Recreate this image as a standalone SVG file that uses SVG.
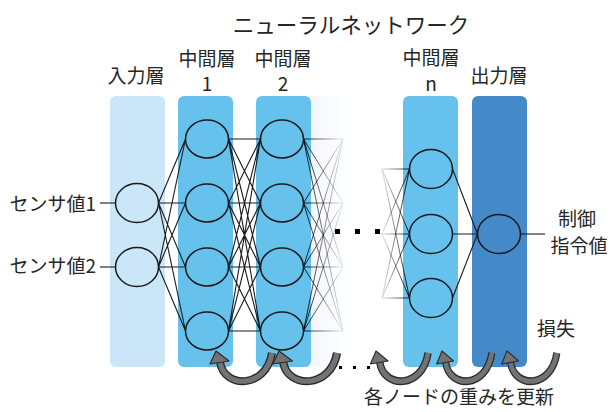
<svg xmlns="http://www.w3.org/2000/svg" xmlns:xlink="http://www.w3.org/1999/xlink" width="613" height="412" viewBox="0 0 613 412">
<style>
text{font-family:"Noto Sans CJK JP","Noto Sans",sans-serif;fill:#262626;font-size:19px}
.c{text-anchor:middle}
.n{stroke:#1a1a1a;stroke-width:1.5}
.e{stroke:#1a1a1a;stroke-width:1.1;fill:none}
.fo{stroke:url(#fadeOut);stroke-width:1;fill:none}
.fi{stroke:url(#fadeIn);stroke-width:1;fill:none}
</style>
<defs>
<linearGradient id="fadeOut" gradientUnits="userSpaceOnUse" x1="303" y1="0" x2="346" y2="0">
<stop offset="0" stop-color="#000" stop-opacity="0.9"/>
<stop offset="1" stop-color="#000" stop-opacity="0"/>
</linearGradient>
<linearGradient id="fadeIn" gradientUnits="userSpaceOnUse" x1="381" y1="0" x2="410" y2="0">
<stop offset="0" stop-color="#000" stop-opacity="0.08"/>
<stop offset="1" stop-color="#000" stop-opacity="0.9"/>
</linearGradient>
<linearGradient id="fadeCol" x1="0" y1="0" x2="1" y2="0">
<stop offset="0" stop-color="#F2F6FC"/>
<stop offset="1" stop-color="#FFFFFF"/>
</linearGradient>
<g id="arrow">
<path d="M4,9 C8,36 50,36 56,0" fill="none" stroke="#2b2b2b" stroke-width="8"/>
<path d="M4,9 C8,36 50,36 56,0" fill="none" stroke="#737373" stroke-width="5.2"/>
<polygon points="0,-2 -6,11 13,8" fill="#737373" stroke="#2b2b2b" stroke-width="1.2" stroke-linejoin="round"/>
</g>
</defs>

<!-- layer columns -->
<g id="columns">
<rect x="110" y="96" width="55" height="271" rx="6" fill="#CAE6F8"/>
<rect x="178" y="96" width="55" height="271" rx="6" fill="#66C1EC"/>
<rect x="256" y="96" width="55" height="271" rx="6" fill="#66C1EC"/>
<rect x="311" y="96" width="36" height="271" fill="url(#fadeCol)"/>
<rect x="403" y="96" width="55" height="271" rx="6" fill="#66C1EC"/>
<rect x="472" y="96" width="55" height="271" rx="6" fill="#4489C8"/>
</g>

<g id="connectors">
<!-- sensor inputs -->
<line class="e" x1="100" y1="203" x2="115.5" y2="203"/>
<line class="e" x1="100" y1="267" x2="115.5" y2="267"/>
<!-- input -> hidden1 -->
<path class="e" d="M158.5,203 L185.5,139 M158.5,203 L185.5,203 M158.5,203 L185.5,267 M158.5,203 L185.5,331 M158.5,267 L185.5,139 M158.5,267 L185.5,203 M158.5,267 L185.5,267 M158.5,267 L185.5,331"/>
<!-- hidden1 -> hidden2 -->
<path class="e" d="M228.5,139 L260.5,139 M228.5,139 L260.5,203 M228.5,139 L260.5,267 M228.5,139 L260.5,331 M228.5,203 L260.5,139 M228.5,203 L260.5,203 M228.5,203 L260.5,267 M228.5,203 L260.5,331 M228.5,267 L260.5,139 M228.5,267 L260.5,203 M228.5,267 L260.5,267 M228.5,267 L260.5,331 M228.5,331 L260.5,139 M228.5,331 L260.5,203 M228.5,331 L260.5,267 M228.5,331 L260.5,331"/>
<!-- hidden2 -> fading -->
<path class="fo" d="M303.5,139 L343,139 M303.5,139 L343,203 M303.5,139 L343,267 M303.5,139 L343,331 M303.5,203 L343,139 M303.5,203 L343,203 M303.5,203 L343,267 M303.5,203 L343,331 M303.5,267 L343,139 M303.5,267 L343,203 M303.5,267 L343,267 M303.5,267 L343,331 M303.5,331 L343,139 M303.5,331 L343,203 M303.5,331 L343,267 M303.5,331 L343,331"/>
<!-- fading -> hidden n -->
<path class="fi" d="M382,169 L409.5,169 M382,169 L409.5,234 M382,169 L409.5,298 M382,234 L409.5,169 M382,234 L409.5,234 M382,234 L409.5,298 M382,298 L409.5,169 M382,298 L409.5,234 M382,298 L409.5,298"/>
<!-- hidden n -> output -->
<path class="e" d="M452.5,169 L477.5,234 M452.5,234 L477.5,234 M452.5,298 L477.5,234"/>
<!-- output -> label -->
<line class="e" x1="520.5" y1="234" x2="545" y2="234"/>
<!-- weight update arrows -->
<use xlink:href="#arrow" transform="translate(216,353)"/>
<use xlink:href="#arrow" transform="translate(279,353) scale(1.036,1)"/>
<use xlink:href="#arrow" transform="translate(376,353) scale(0.93,1)"/>
<use xlink:href="#arrow" transform="translate(442,353) scale(0.89,1)"/>
<use xlink:href="#arrow" transform="translate(507,353) scale(0.89,1)"/>
</g>

<g id="input-layer">
<ellipse class="n" cx="137" cy="203" rx="21.5" ry="19.5" fill="#CAE6F8"/>
<ellipse class="n" cx="137" cy="267" rx="21.5" ry="19.5" fill="#CAE6F8"/>
</g>
<g id="hidden-1">
<ellipse class="n" cx="207" cy="139" rx="21.5" ry="19" fill="#66C1EC"/>
<ellipse class="n" cx="207" cy="203" rx="21.5" ry="19" fill="#66C1EC"/>
<ellipse class="n" cx="207" cy="267" rx="21.5" ry="19" fill="#66C1EC"/>
<ellipse class="n" cx="207" cy="331" rx="21.5" ry="19" fill="#66C1EC"/>
</g>
<g id="hidden-2">
<ellipse class="n" cx="282" cy="139" rx="21.5" ry="19" fill="#66C1EC"/>
<ellipse class="n" cx="282" cy="203" rx="21.5" ry="19" fill="#66C1EC"/>
<ellipse class="n" cx="282" cy="267" rx="21.5" ry="19" fill="#66C1EC"/>
<ellipse class="n" cx="282" cy="331" rx="21.5" ry="19" fill="#66C1EC"/>
</g>
<g id="hidden-n">
<ellipse class="n" cx="431" cy="169" rx="21.5" ry="19.5" fill="#66C1EC"/>
<ellipse class="n" cx="431" cy="234" rx="21.5" ry="19.5" fill="#66C1EC"/>
<ellipse class="n" cx="431" cy="298" rx="21.5" ry="19.5" fill="#66C1EC"/>
</g>
<g id="output-layer">
<ellipse class="n" cx="499" cy="234" rx="21.5" ry="19.5" fill="#4489C8"/>
</g>

<!-- ellipsis dots -->
<g id="dots" fill="#000">
<rect x="335" y="229" width="5" height="5"/>
<rect x="355" y="229" width="5" height="5"/>
<rect x="375" y="229" width="5" height="5"/>
<rect x="339" y="366" width="3" height="3"/>
<rect x="353" y="366" width="3" height="3"/>
<rect x="367" y="366" width="3" height="3"/>
</g>

<g id="labels">
<text class="c" x="351" y="33" style="font-size:21.5px">ニューラルネットワーク</text>
<text class="c" x="136" y="83">入力層</text>
<text class="c" x="207" y="66">中間層</text>
<text class="c" x="207" y="91">1</text>
<text class="c" x="283" y="66">中間層</text>
<text class="c" x="283" y="91">2</text>
<text class="c" x="431" y="65">中間層</text>
<text class="c" x="431" y="91">n</text>
<text class="c" x="499" y="83">出力層</text>
<text x="96" y="211" text-anchor="end">センサ値1</text>
<text x="96" y="273" text-anchor="end">センサ値2</text>
<text class="c" x="577" y="226">制御</text>
<text class="c" x="579" y="253">指令値</text>
<text class="c" x="556" y="336">損失</text>
<text class="c" x="459" y="404">各ノードの重みを更新</text>
</g>
</svg>
